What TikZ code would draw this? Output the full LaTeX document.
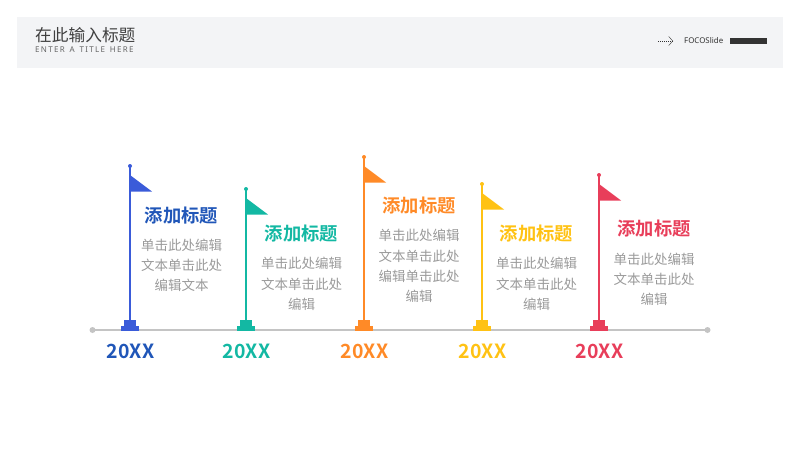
\documentclass[tikz,border=0pt]{standalone}
\usepackage{fontspec}
\setmainfont{Noto Sans}
\newfontfamily\cjk{Noto Sans CJK SC}[BoldFont={Noto Sans CJK SC Bold}]
\usetikzlibrary{arrows.meta,positioning}
\definecolor{headbg}{HTML}{F3F4F6}
\definecolor{axisgray}{HTML}{C4C4C4}
\definecolor{bodygray}{HTML}{9A9A9A}
\definecolor{flagblue}{HTML}{3A5BD9}
\definecolor{textblue}{HTML}{2056B8}
\definecolor{flagteal}{HTML}{13B8A3}
\definecolor{flagorange}{HTML}{FF8A27}
\definecolor{flagyellow}{HTML}{FFC214}
\definecolor{flagred}{HTML}{E83E5A}
\tikzset{
  headtext/.style={font=\cjk\bfseries\fontsize{18.3}{20}\selectfont, inner sep=0pt},
  bodytext/.style={font=\cjk\fontsize{13.5}{20.3}\selectfont, text=bodygray, align=center, inner sep=0pt},
  yeartext/.style={font=\cjk\bfseries\fontsize{19.5}{20}\selectfont, inner sep=0pt},
}
\begin{document}
\begin{tikzpicture}[x=1pt,y=-1pt]
    \useasboundingbox (0,0) rectangle (800,450);
    % Header
    \fill[headbg] (17,17) rectangle (783,68);
    \node[anchor=west, inner sep=0pt, text=black!75, font=\cjk\fontsize{16.7}{18}\selectfont] (title) at (35,35) {在此输入标题};
    \node[anchor=west, inner sep=0pt, text=black!60, font=\fontsize{8}{10}\selectfont] (subtitle) at (35,50) {E\,N\,T\,E\,R\, \,A\, \,T\,I\,T\,L\,E\, \,H\,E\,R\,E};
    \node[anchor=west, inner sep=0pt, text=black!80, font=\fontsize{7.9}{9}\selectfont] (brand) at (684,41) {FOCOSlide};
    \fill[black!80] (730,38) rectangle (767,44);
    \coordinate (arrowstart) at (658,41);
    \coordinate (arrowend) at (673,41);
    \draw[black!80, dash pattern=on 1pt off 1pt, -{Straight Barb[length=4pt,width=9pt]}] (arrowstart) -- (arrowend);
    % Axis
    \coordinate (axisleft) at (92.5,330);
    \coordinate (axisright) at (707.5,330);
    \draw[axisgray, line width=1.5pt] (axisleft) -- (axisright);
    \fill[axisgray] (axisleft) circle (3pt);
    \fill[axisgray] (axisright) circle (3pt);
    % Flags
    \foreach \i/\px/\ptop/\tx/\hy/\by/\flagc/\textc/\body in {
      1/130/166/181.5/215.5/265.5/flagblue/textblue/{单击此处编辑\\文本单击此处\\编辑文本},
      2/246/189/301.5/233.5/284/flagteal/flagteal/{单击此处编辑\\文本单击此处\\编辑},
      3/364/157/419/205.5/266/flagorange/flagorange/{单击此处编辑\\文本单击此处\\编辑单击此处\\编辑},
      4/482/184/536.5/233.5/284/flagyellow/flagyellow/{单击此处编辑\\文本单击此处\\编辑},
      5/599/175/654/228.5/279.5/flagred/flagred/{单击此处编辑\\文本单击此处\\编辑}} {
      \coordinate (top\i) at (\px,\ptop);
      \coordinate (foot\i) at (\px,326);
      \draw[\flagc, line width=2pt] (top\i) -- (foot\i);
      \fill[\flagc] (top\i) circle (2pt);
      % pennant
      \fill[\flagc] (\px,\ptop+9) -- (\px+22,\ptop+25.5) -- (\px,\ptop+25.5) -- cycle;
      % base
      \fill[\flagc] (\px-6,320) rectangle (\px+6,326);
      \fill[\flagc] (\px-9,326) rectangle (\px+9,331);
      % texts
      \node[headtext, text=\textc] (head\i) at (\tx,\hy) {添加标题};
      \node[bodytext] (body\i) at (\tx,\by) {\body};
      \node[yeartext, text=\textc] (year\i) at (\px+0.5,351) {20XX};
    }
\end{tikzpicture}
\end{document}
